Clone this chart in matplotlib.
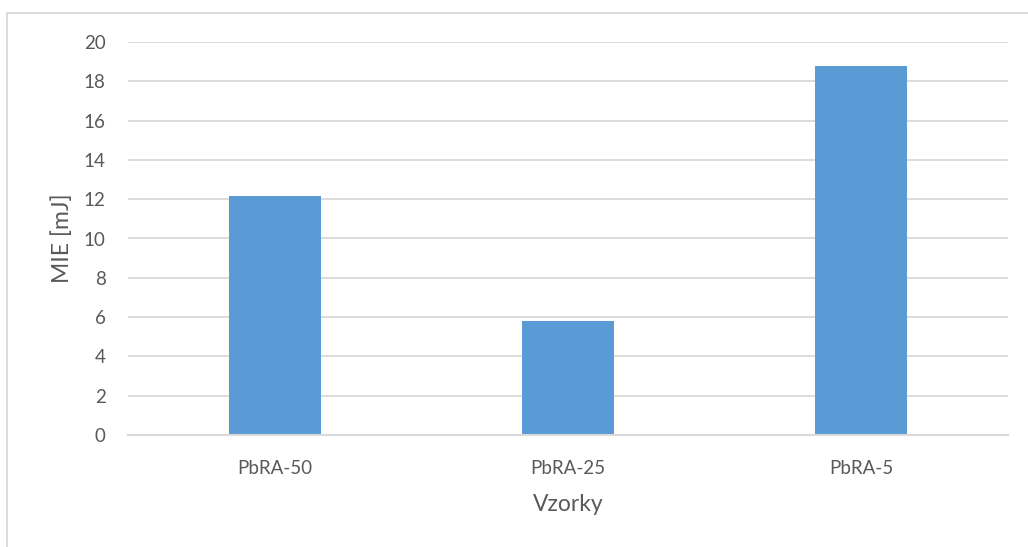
import matplotlib.pyplot as plt
from matplotlib.patches import Rectangle

samples = ["PbRA-50", "PbRA-25", "PbRA-5"]
mie_mj = [12.17, 5.81, 18.76]
y_ticks = list(range(0, 21, 2))

plt.rcParams['font.family'] = ['Lato', 'DejaVu Sans']
txt_col = '#595959'
grid_col = '#d9d9d9'

fig = plt.figure(figsize=(10.28, 5.47), dpi=100)
ax = fig.add_axes([128 / 1028, 1 - 435 / 547, 880 / 1028, 393 / 547])

x = range(len(samples))
ax.bar(x, mie_mj, width=0.314, color='#5b9bd5', zorder=3)

ax.set_xlim(-0.5, len(samples) - 0.5)
ax.set_ylim(0, 20)
ax.set_yticks(y_ticks)
ax.set_xticks(list(x))
ax.set_xticklabels(samples)
ax.tick_params(axis='both', length=0, colors=txt_col, labelsize=13.5)
ax.tick_params(axis='y', pad=16)
ax.tick_params(axis='x', pad=18)
ax.yaxis.grid(True, color=grid_col, linewidth=1.3, zorder=0)

for s in ['top', 'right', 'left']:
    ax.spines[s].set_visible(False)
ax.spines['bottom'].set_color(grid_col)
ax.spines['bottom'].set_linewidth(1.5)
ax.spines['bottom'].set_zorder(4)

ax.set_ylabel("MIE [mJ]", fontsize=16.5, color=txt_col, labelpad=8)
ax.set_xlabel("Vzorky", fontsize=16.5, color=txt_col, labelpad=12)

# chart frame (top and left edges visible)
fig.patches.append(Rectangle((7 / 1028, -0.1), 1.2, 1 - 13 / 547 + 0.1,
                             transform=fig.transFigure, fill=False,
                             edgecolor=grid_col, linewidth=1.3))

fig.savefig('out.png', dpi=100)
